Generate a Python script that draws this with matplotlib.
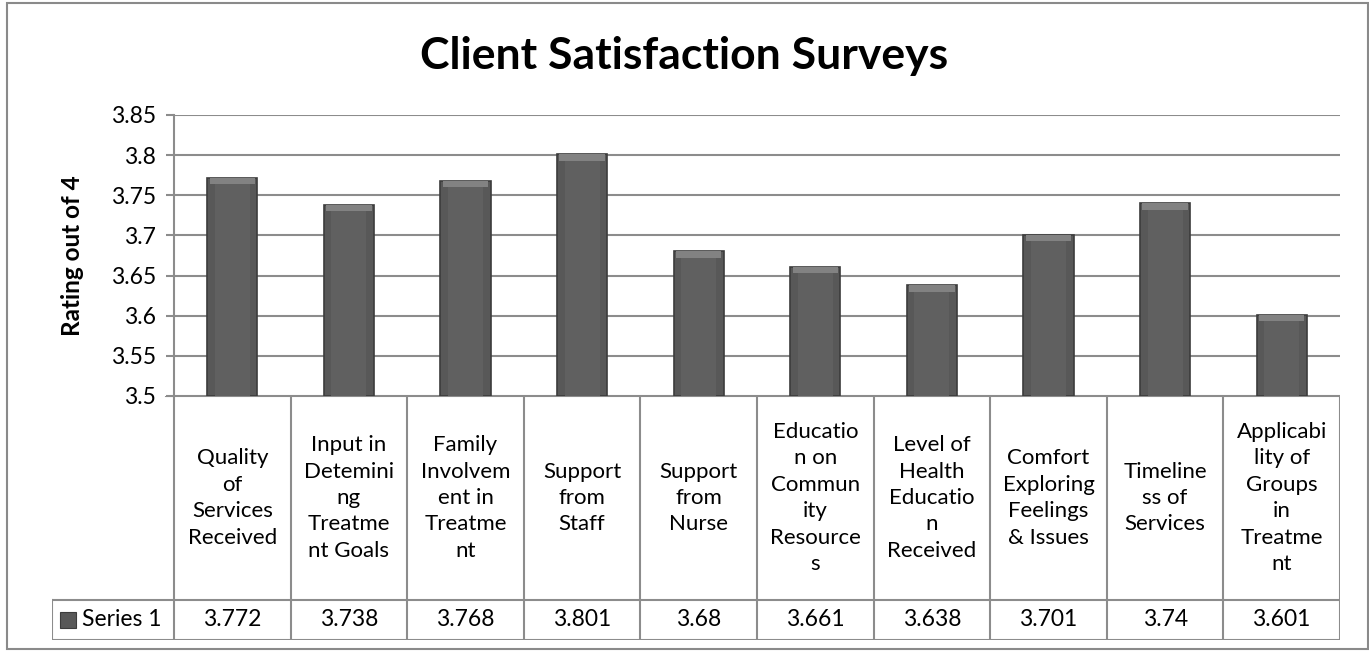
import matplotlib
matplotlib.use('Agg')
import matplotlib.pyplot as plt
from matplotlib.patches import Rectangle
from matplotlib.ticker import FuncFormatter, MultipleLocator

# 数据
categories = ['Quality\nof\nServices\nReceived',
              'Input in\nDetemini\nng\nTreatme\nnt Goals',
              'Family\nInvolvem\nent in\nTreatme\nnt',
              'Support\nfrom\nStaff',
              'Support\nfrom\nNurse',
              'Educatio\nn on\nCommun\nity\nResource\ns',
              'Level of\nHealth\nEducatio\nn\nReceived',
              'Comfort\nExploring\nFeelings\n& Issues',
              'Timeline\nss of\nServices',
              'Applicabi\nlity of\nGroups\nin\nTreatme\nnt']
values = [3.772, 3.738, 3.768, 3.801, 3.68, 3.661, 3.638, 3.701, 3.74, 3.601]
value_labels = ['3.772', '3.738', '3.768', '3.801', '3.68', '3.661', '3.638', '3.701', '3.74', '3.601']
series_name = 'Series 1'
y_ticks = [3.5, 3.55, 3.6, 3.65, 3.7, 3.75, 3.8, 3.85]

plt.rcParams['font.family'] = ['Lato', 'DejaVu Sans']
W, H = 1369, 651
line_c = '#8c8c8c'
bar_c = '#585858'

fig = plt.figure(figsize=(W / 100, H / 100), dpi=100)

# 外框
fig.patches.append(Rectangle((7 / W, 1 - 649 / H), 1361 / W, 646 / H, transform=fig.transFigure,
                             fill=False, edgecolor='#8a8a8a', linewidth=1.5))

# 主图
x0, x1 = 174, 1340
ytop, ybot = 115, 396
ax = fig.add_axes([x0 / W, 1 - ybot / H, (x1 - x0) / W, (ybot - ytop) / H])
xs = list(range(len(values)))
base = y_ticks[0]
ax.bar(xs, [v - base for v in values], bottom=base, width=0.43, color=bar_c,
       edgecolor='#3c3c3c', linewidth=1.2, zorder=3)
# 中间稍亮
ax.bar(xs, [v - base - 0.004 for v in values], bottom=base, width=0.3, color='#606060',
       linewidth=0, zorder=3.5)
# 顶部高光
ax.bar(xs, [0.008] * len(values), bottom=[v - 0.008 for v in values], width=0.39,
       color='#828282', linewidth=0, zorder=4)
ax.set_xlim(-0.5, len(values) - 0.5)
ax.set_ylim(y_ticks[0], y_ticks[-1])
ax.yaxis.set_major_locator(MultipleLocator(0.05))
ax.yaxis.set_major_formatter(FuncFormatter(lambda v, p: '%g' % round(v, 3)))
ax.grid(axis='y', color=line_c, linewidth=1.5, zorder=0)
ax.set_xticks([])
for s in ['top', 'right', 'bottom']:
    ax.spines[s].set_visible(False)
ax.spines['left'].set_color(line_c)
ax.spines['left'].set_linewidth(1.5)
ax.tick_params(axis='y', direction='out', length=6, width=1.5, color=line_c,
               labelsize=16.5, pad=7, labelcolor='black')
ax.set_ylabel('Rating out of 4', fontsize=17.5, fontweight='bold', labelpad=19)

fig.text(684 / W, 1 - 56 / H, 'Client Satisfaction Surveys', ha='center', va='center',
         fontsize=32, fontweight='bold')

# 数据表
n = len(values)
col_w = (x1 - x0) / n
leg_left = 52
leg_w = (x0 - leg_left) / col_w
tb_bot = 640
tax = fig.add_axes([leg_left / W, 1 - tb_bot / H, (x1 - leg_left) / W, (tb_bot - ybot) / H])
tax.set_xlim(-0.5 - leg_w, n - 0.5)
tax.set_ylim(0, 1)
tax.axis('off')
row_y = (tb_bot - 600) / (tb_bot - ybot)
lw = 1.5
tax.plot([-0.5 - 8 / col_w, n - 0.5], [1, 1], color=line_c, lw=lw)
tax.plot([-0.5 - leg_w, n - 0.5], [row_y, row_y], color=line_c, lw=lw)
tax.plot([-0.5 - leg_w, n - 0.5], [0, 0], color=line_c, lw=lw)
tax.plot([-0.5 - leg_w, -0.5 - leg_w], [0, row_y], color=line_c, lw=lw)
for i in range(n + 1):
    tax.plot([i - 0.5, i - 0.5], [0, 1], color=line_c, lw=lw)
for i in range(n):
    tax.text(i, (1 + row_y) / 2, categories[i], ha='center', va='center',
             fontsize=16, linespacing=1.4, multialignment='center')
    tax.text(i, row_y / 2, value_labels[i], ha='center', va='center', fontsize=16.5)

# 图例
tax.add_patch(Rectangle((-0.5 - leg_w + 8 / col_w, row_y / 2 - 8 / (tb_bot - ybot)),
                        16 / col_w, 16 / (tb_bot - ybot), facecolor=bar_c,
                        edgecolor='#3c3c3c', lw=0.8))
tax.text(-0.5 - leg_w + 30 / col_w, row_y / 2, series_name, ha='left', va='center', fontsize=16.5)

fig.savefig('out.png', dpi=100)
